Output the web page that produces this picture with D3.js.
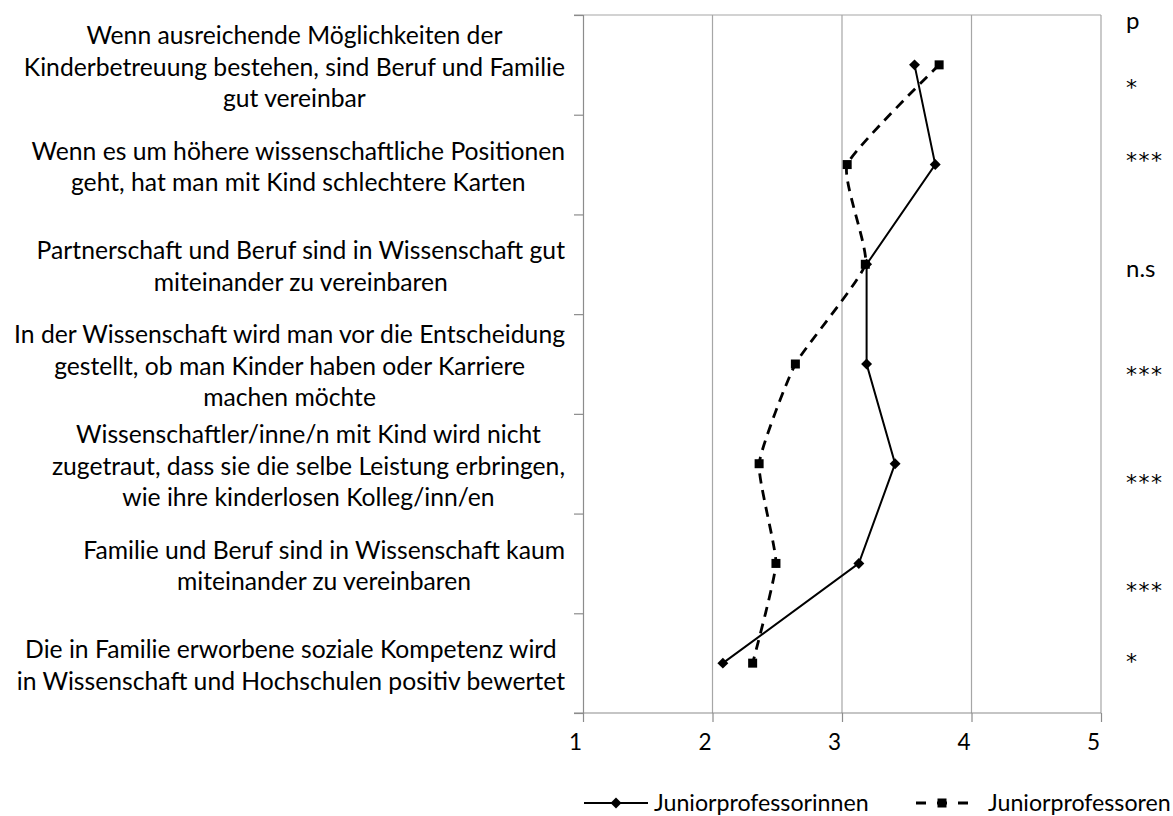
<!DOCTYPE html>
<html>
<head>
<meta charset="utf-8">
<script src="https://cdn.jsdelivr.net/npm/d3@7"></script>
<style>
  html, body { margin: 0; padding: 0; background: #fff; }
  svg { display: block; }
</style>
</head>
<body>
<svg id="chart" width="1173" height="816" font-family="Lato, 'Open Sans', sans-serif"></svg>
<script>
// ---------------- data ----------------
const categories = [
  ["Wenn ausreichende Möglichkeiten der", "Kinderbetreuung bestehen, sind Beruf und Familie", "gut vereinbar"],
  ["Wenn es um höhere wissenschaftliche Positionen", "geht, hat man mit Kind schlechtere Karten"],
  ["Partnerschaft und Beruf sind in Wissenschaft gut", "miteinander zu vereinbaren"],
  ["In der Wissenschaft wird man vor die Entscheidung", "gestellt, ob man Kinder haben oder Karriere", "machen möchte"],
  ["Wissenschaftler/inne/n mit Kind wird nicht", "zugetraut, dass sie die selbe Leistung erbringen,", "wie ihre kinderlosen Kolleg/inn/en"],
  ["Familie und Beruf sind in Wissenschaft kaum", "miteinander zu vereinbaren"],
  ["Die in Familie erworbene soziale Kompetenz wird", "in Wissenschaft und Hochschulen positiv bewertet"]
];
const juniorprofessorinnen = [3.56, 3.72, 3.19, 3.19, 3.41, 3.13, 2.08];
const juniorprofessoren    = [3.75, 3.04, 3.18, 2.64, 2.36, 2.49, 2.31];
const seriesNames = ["Juniorprofessorinnen", "Juniorprofessoren"];
const xTicks = [1, 2, 3, 4, 5];
const pHeader = "p";
const pValues = ["*", "***", "n.s", "***", "***", "***", "*"];

// ---------------- layout ----------------
const plot = { left: 583, right: 1101, top: 15, bottom: 713 };
const labelRight = 565;
const labelFont = 24.7;
const lineH = 31.5;
const pX = 1126;
// manual placement (px from band centre) of the visual centre of each p annotation
const pOffsets = [18, -9, 6, 6, 14, 22, -6];

const svg = d3.select("#chart");
const x = d3.scaleLinear().domain([1, 5]).range([plot.left, plot.right]);
const yb = d3.scaleLinear().domain([0, categories.length]).range([plot.top, plot.bottom]);
const yc = i => yb(i + 0.5);

const gridColor = "#a6a6a6";
const axisColor = "#8c8c8c";

// vertical gridlines
svg.append("g").selectAll("line").data(xTicks.slice(1)).join("line")
  .attr("x1", d => x(d)).attr("x2", d => x(d))
  .attr("y1", plot.top).attr("y2", plot.bottom)
  .attr("stroke", gridColor).attr("stroke-width", 1.2);

// top line
svg.append("line")
  .attr("x1", plot.left - 9).attr("x2", plot.right)
  .attr("y1", plot.top).attr("y2", plot.top)
  .attr("stroke", gridColor).attr("stroke-width", 1.2);

// left (category) axis with boundary ticks
const leftAxis = d3.axisLeft(yb).ticks(categories.length).tickSize(9).tickFormat("");
const gL = svg.append("g").attr("transform", `translate(${plot.left},0)`).call(leftAxis);
gL.select(".domain").attr("stroke", axisColor).attr("stroke-width", 1.2);
gL.selectAll(".tick line").attr("stroke", axisColor).attr("stroke-width", 1.2);

// bottom (value) axis
const bottomAxis = d3.axisBottom(x).tickValues(xTicks).tickSize(9).tickSizeOuter(0).tickFormat(d3.format("d"));
const gB = svg.append("g").attr("transform", `translate(0,${plot.bottom})`).call(bottomAxis);
gB.attr("font-family", null).attr("font-size", null);
gB.select(".domain").attr("stroke", axisColor).attr("stroke-width", 1.2).attr("d", `M${plot.left - 9},0H${plot.right}`);
gB.selectAll(".tick line").attr("stroke", axisColor).attr("stroke-width", 1.2);
gB.selectAll(".tick text")
  .style("font-family", "Lato, sans-serif").style("font-size", "22.5px")
  .attr("fill", "#000").attr("y", 21).attr("dx", -8);
gL.attr("font-family", null);

// category labels: centred blocks, widest line right-aligned at labelRight
const labG = svg.append("g");
categories.forEach((lines, i) => {
  const g = labG.append("g");
  const t = g.selectAll("text").data(lines).join("text")
    .attr("font-size", labelFont)
    .attr("text-anchor", "middle")
    .attr("fill", "#000")
    .text(d => d);
  const maxW = d3.max(t.nodes(), n => n.getComputedTextLength());
  const cx = labelRight - maxW / 2;
  const n = lines.length;
  t.attr("x", cx)
   .attr("y", (d, k) => yc(i) + 2 + (k - (n - 1) / 2) * lineH + 0.36 * labelFont);
});

// lines
const lineSolid = d3.line().x(d => x(d.v)).y(d => yc(d.i));
const lineSmooth = d3.line().x(d => x(d.v)).y(d => yc(d.i)).curve(d3.curveCardinal.tension(0.55));
const dataA = juniorprofessorinnen.map((v, i) => ({ v, i }));
const dataB = juniorprofessoren.map((v, i) => ({ v, i }));

svg.append("path").datum(dataB)
  .attr("d", lineSmooth).attr("fill", "none")
  .attr("stroke", "#000").attr("stroke-width", 2.8).attr("stroke-dasharray", "10,7");
svg.append("path").datum(dataA)
  .attr("d", lineSolid).attr("fill", "none")
  .attr("stroke", "#000").attr("stroke-width", 2);

svg.append("g").selectAll("rect").data(dataB).join("rect")
  .attr("x", d => x(d.v) - 4.5).attr("y", d => yc(d.i) - 4.5)
  .attr("width", 9).attr("height", 9).attr("fill", "#000");
svg.append("g").selectAll("path").data(dataA).join("path")
  .attr("d", d3.symbol().type(d3.symbolSquare).size(60))
  .attr("transform", d => `translate(${x(d.v)},${yc(d.i)}) rotate(45)`)
  .attr("fill", "#000");

// p column
svg.append("text").attr("x", pX).attr("y", 29).attr("font-size", 24).attr("fill", "#000").text(pHeader);
const starFs = 22;
svg.append("g").selectAll("text").data(pValues).join("text")
  .attr("x", pX)
  .attr("y", (d, i) => yc(i) + pOffsets[i] + (d === "n.s" ? 0.27 * 24 : 0.56 * starFs))
  .style("font-family", d => d === "n.s" ? "Lato, sans-serif" : "'DejaVu Sans', sans-serif")
  .attr("font-size", d => d === "n.s" ? 24 : starFs)
  .attr("letter-spacing", d => d === "n.s" ? 0 : 1.5)
  .attr("fill", "#000")
  .text(d => d);

// legend
const legY = 803;
const leg = svg.append("g");
// solid item
leg.append("line").attr("x1", 584).attr("x2", 648).attr("y1", legY).attr("y2", legY)
  .attr("stroke", "#000").attr("stroke-width", 2);
leg.append("path").attr("d", d3.symbol().type(d3.symbolSquare).size(60))
  .attr("transform", `translate(616,${legY}) rotate(45)`).attr("fill", "#000");
leg.append("text").attr("x", 654).attr("y", legY).attr("dy", "0.35em")
  .attr("font-size", 23.2).attr("fill", "#000").text(seriesNames[0]);
// dashed item
leg.append("line").attr("x1", 916).attr("x2", 968).attr("y1", legY).attr("y2", legY)
  .attr("stroke", "#000").attr("stroke-width", 2.8).attr("stroke-dasharray", "10,11");
leg.append("rect").attr("x", 937.5).attr("y", legY - 4.5).attr("width", 9).attr("height", 9).attr("fill", "#000");
leg.append("text").attr("x", 988).attr("y", legY).attr("dy", "0.35em")
  .attr("font-size", 23.2).attr("fill", "#000").text(seriesNames[1]);
</script>
</body>
</html>
